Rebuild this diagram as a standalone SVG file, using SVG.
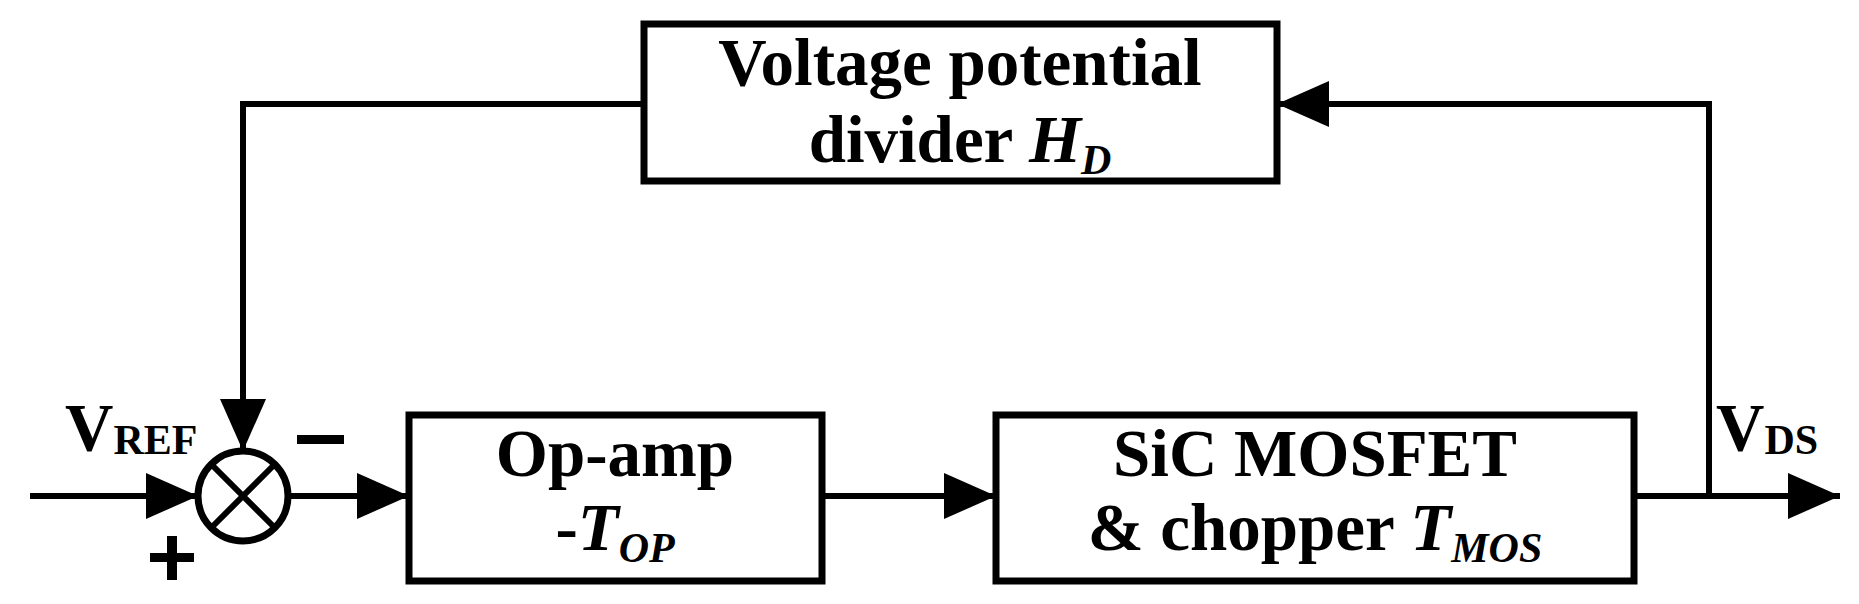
<svg xmlns="http://www.w3.org/2000/svg" width="1859" height="604" viewBox="0 0 1859 604">
<style>
.b{fill:#fff;stroke:#000;stroke-width:7}
.l{fill:none;stroke:#000;stroke-width:6}
.t{font-family:"Liberation Serif",serif;font-weight:bold;font-size:67px;text-anchor:middle}
.s{font-size:42px}
</style>
<defs><marker id="a" markerWidth="52" markerHeight="46" refX="52" refY="23" orient="auto" markerUnits="userSpaceOnUse"><path d="M0,0L52,23L0,46z"/></marker></defs>
<rect width="1859" height="604" fill="#fff"/>
<g id="connectors">
<path class="l" d="M644,104H243V451" marker-end="url(#a)"/>
<path class="l" d="M1709,496V104H1277" marker-end="url(#a)"/>
<path class="l" d="M30,496H198" marker-end="url(#a)"/>
<path class="l" d="M288,496H409" marker-end="url(#a)"/>
<path class="l" d="M822,496H996" marker-end="url(#a)"/>
<path class="l" d="M1634,496H1840" marker-end="url(#a)"/>
</g>
<g id="divider"><rect class="b" x="644" y="24" width="633" height="157"/>
<text class="t" x="960" y="85">Voltage potential</text>
<text class="t" x="960" y="162">divider <tspan font-style="italic">H</tspan><tspan class="s" font-style="italic" dy="12">D</tspan></text></g>
<g id="opamp"><rect class="b" x="409" y="415" width="413" height="166"/>
<text class="t" x="615" y="476">Op-amp</text>
<text class="t" x="615" y="550">-<tspan font-style="italic">T</tspan><tspan class="s" font-style="italic" dy="12">OP</tspan></text></g>
<g id="sic"><rect class="b" x="996" y="415" width="638" height="166"/>
<text class="t" x="1315" y="476">SiC MOSFET</text>
<text class="t" x="1315" y="550">&amp; chopper <tspan font-style="italic">T</tspan><tspan class="s" font-style="italic" dy="12">MOS</tspan></text></g>
<g id="sum"><circle cx="243" cy="496" r="45" fill="#fff" stroke="#000" stroke-width="7"/>
<path class="l" d="M211,464L275,528M275,464L211,528"/>
<rect x="297" y="435" width="47" height="9"/>
<rect x="150" y="553" width="44" height="9"/><rect x="167" y="536" width="10" height="44"/></g>
<g id="labels">
<text class="t" x="65" y="450" style="text-anchor:start">V<tspan class="s" dy="4">REF</tspan></text>
<text class="t" x="1716" y="450" style="text-anchor:start">V<tspan class="s" dy="4">DS</tspan></text>
</g>
</svg>
